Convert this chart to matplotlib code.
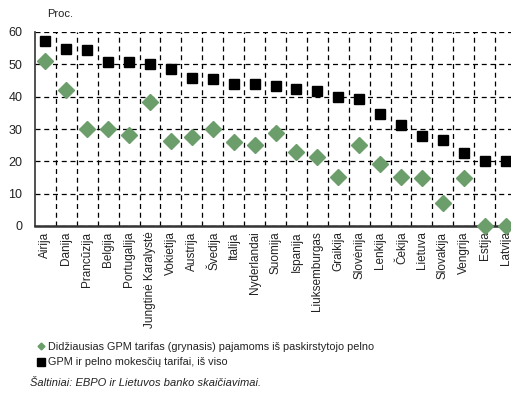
import matplotlib.pyplot as plt
from matplotlib.lines import Line2D

plt.rcParams['font.family'] = ['Liberation Sans', 'DejaVu Sans']
plt.rcParams['text.color'] = '#222222'
plt.rcParams['xtick.color'] = '#222222'
plt.rcParams['ytick.color'] = '#222222'

countries = ['Airija', 'Danija', 'Prancūzija', 'Belgija', 'Portugalija',
             'Jungtinė Karalystė', 'Vokietija', 'Austrija', 'Švedija', 'Italija',
             'Nyderlandai', 'Suomija', 'Ispanija', 'Liuksemburgas', 'Graikija',
             'Slovėnija', 'Lenkija', 'Čekija', 'Lietuva', 'Slovakija', 'Vengrija',
             'Estija', 'Latvija']
total_rate = [57.3, 54.8, 54.3, 50.8, 50.8, 50.1, 48.5, 45.8, 45.4, 43.8,
              43.8, 43.2, 42.4, 41.6, 39.9, 39.3, 34.6, 31.2, 27.9, 26.6, 22.7,
              20.0, 20.0]
max_rate = [51.0, 42.1, 30.1, 30.1, 28.1, 38.3, 26.3, 27.6, 30.1, 26.1,
            25.2, 28.9, 23.0, 21.3, 15.1, 25.1, 19.1, 15.1, 15.0, 7.1, 15.0,
            0.0, 0.0]
yticks = [0, 10, 20, 30, 40, 50, 60]

green = '#6b9e6b'
x = list(range(len(countries)))

fig = plt.figure(figsize=(5.11, 3.98), dpi=100)
ax = fig.add_axes([35 / 511, 1 - 226 / 398, 481 / 511, 194 / 398])

ax.plot(x, max_rate, linestyle='none', marker='D', markersize=8.5,
        color=green, clip_on=False, zorder=3)
ax.plot(x, total_rate, linestyle='none', marker='s', markersize=7.5,
        color='black', clip_on=False, zorder=4)

ax.set_xlim(-0.5, len(countries) - 0.5)
ax.set_ylim(0, 60)
ax.set_yticks(yticks)
ax.set_xticks(x)
ax.set_xticklabels(countries, rotation=90, fontsize=8.5)
ax.set_xticks([i + 0.5 for i in x[:-1]], minor=True)
ax.tick_params(axis='both', which='both', length=0)
ax.tick_params(axis='y', labelsize=9, pad=9)
ax.tick_params(axis='x', pad=4)

ax.grid(True, axis='y', which='major', linestyle=(0, (4, 3)), color='black', linewidth=0.9)
ax.grid(True, axis='x', which='minor', linestyle=(0, (4, 3)), color='black', linewidth=0.9)
for s in ['top', 'right']:
    ax.spines[s].set_visible(False)
ax.spines['left'].set_color('#333333')
ax.spines['left'].set_linewidth(1.2)
ax.spines['bottom'].set_color('#333333')
ax.spines['bottom'].set_linewidth(1.8)
ax.set_axisbelow(True)

fig.text(47 / 511, 1 - 14 / 398, 'Proc.', fontsize=8, va='center')

handles = [Line2D([], [], linestyle='none', marker='D', markersize=3.5, color=green),
           Line2D([], [], linestyle='none', marker='s', markersize=5.5, color='black')]
labels = ['Didžiausias GPM tarifas (grynasis) pajamoms iš paskirstytojo pelno',
          'GPM ir pelno mokesčių tarifai, iš viso']
fig.legend(handles, labels, loc='upper left', bbox_to_anchor=(37 / 511, 1 - 342 / 398),
           frameon=False, fontsize=7.8, handlelength=0.7, handletextpad=0.35,
           labelspacing=0.5, borderpad=0, borderaxespad=0)

fig.text(30 / 511, 1 - 383 / 398, 'Šaltiniai: EBPO ir Lietuvos banko skaičiavimai.',
         fontsize=8, style='italic', va='center')

fig.savefig('out.png', dpi=100)
